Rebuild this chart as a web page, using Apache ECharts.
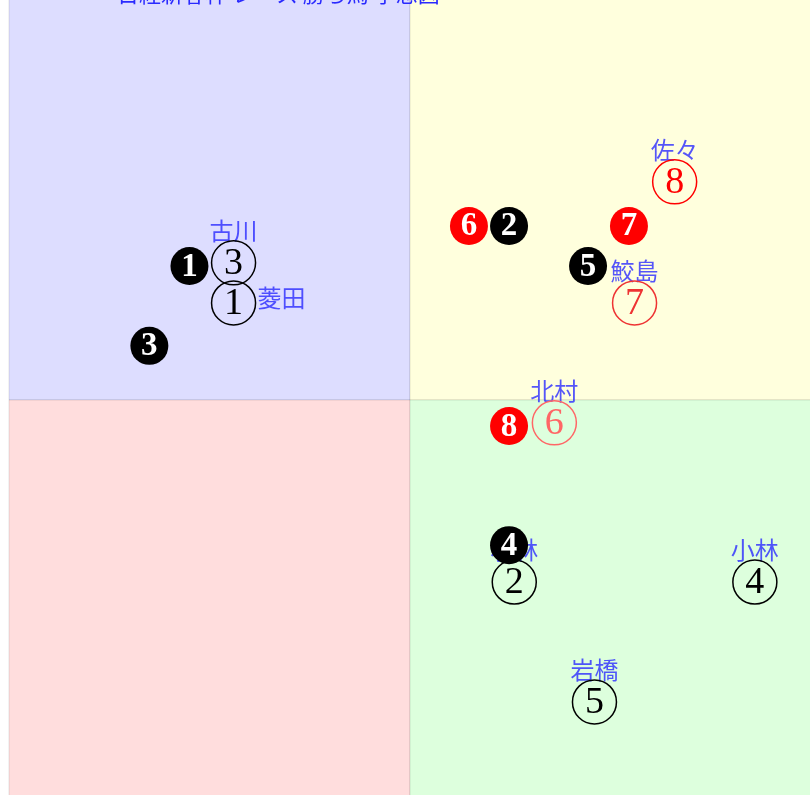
<!DOCTYPE html>
<html>
<head>
<meta charset="utf-8">
<script src="https://cdn.jsdelivr.net/npm/echarts@6/dist/echarts.min.js"></script>
<style>
  html, body { margin: 0; padding: 0; background: #ffffff; }
  #chart { width: 810px; height: 795px; }
</style>
</head>
<body>
<div id="chart"></div>
<script>
// 白抜きの丸数字（名前付き）
const openNums = ['3', '1', '8', '7', '6', '2', '4', '5']
const openX = [-4.4, -4.4, 6.6, 5.6, 3.6, 2.6, 8.6, 4.6]
const openY = [3.42, 2.42, 5.44, 2.42, -0.57, -4.54, -4.54, -7.53]
const openNames = ['古川', '菱田', '佐々', '鮫島', '北村', '小林', '小林', '岩橋']

// 黒丸数字
const filledNums = ['1', '3', '2', '6', '7', '5', '8', '4']
const filledX = [-5.5, -6.5, 2.47, 1.47, 5.46, 4.44, 2.47, 2.47]
const filledY = [3.34, 1.35, 4.34, 4.34, 4.34, 3.34, -0.65, -3.62]

// 色
const openColors = { '8': '#ff0000', '7': '#ee3333', '6': '#ff6666' }
const filledColors = { '6': '#ff0000', '7': '#ff0000', '8': '#ff0000' }
const rightNames = ['菱田']

const titleText = '日経新春杯 レース 勝ち馬 予想図'

const chart = echarts.init(document.getElementById('chart'))

const numFont = '"Liberation Serif", "DejaVu Serif", serif'
const nameFont = '"Noto Sans CJK JP", sans-serif'

const option = {
  animation: false,
  title: {
    text: titleText,
    left: 112,
    top: -22,
    textStyle: { color: '#2a2aff', fontSize: 22, fontWeight: 'normal', fontFamily: nameFont }
  },
  grid: { left: 9, top: -1, width: 802, height: 802, outerBoundsMode: 'none' },
  xAxis: { type: 'value', min: -10, max: 10, show: false },
  yAxis: { type: 'value', min: -10, max: 10, show: false },
  series: [
    {
      type: 'scatter',
      data: [],
      silent: true,
      markArea: {
        silent: true,
        itemStyle: { borderColor: 'rgba(0,0,0,0.1)', borderWidth: 1, opacity: 1 },
        data: [
          [{ xAxis: -10, yAxis: 0, itemStyle: { color: '#ddddff' } }, { xAxis: 0, yAxis: 10 }],
          [{ xAxis: 0, yAxis: 0, itemStyle: { color: '#ffffdd' } }, { xAxis: 10, yAxis: 10 }],
          [{ xAxis: -10, yAxis: -10, itemStyle: { color: '#ffdddd' } }, { xAxis: 0, yAxis: 0 }],
          [{ xAxis: 0, yAxis: -10, itemStyle: { color: '#ddffdd' } }, { xAxis: 10, yAxis: 0 }]
        ]
      }
    },
    {
      // 名前
      type: 'scatter',
      z: 3,
      symbolSize: 0,
      data: openNames.map((n, i) => {
        const right = rightNames.includes(n)
        return {
          value: [openX[i], openY[i]],
          label: { offset: right ? [48, -5] : [0, -32] }
        }
      }),
      label: {
        show: true,
        position: 'inside',
        formatter: p => openNames[p.dataIndex],
        color: '#2a2aff',
        fontSize: 24,
        fontFamily: nameFont
      }
    },
    {
      // 丸数字
      type: 'scatter',
      z: 4,
      symbol: 'circle',
      symbolSize: 44,
      data: openNums.map((m, i) => {
        const c = openColors[m] || '#000000'
        return {
          value: [openX[i], openY[i]],
          itemStyle: { borderColor: c },
          label: { color: c }
        }
      }),
      itemStyle: { color: 'rgba(0,0,0,0)', borderWidth: 1.5, opacity: 1 },
      label: {
        show: true,
        position: 'inside',
        offset: [0, 1],
        formatter: p => openNums[p.dataIndex],
        fontSize: 38,
        fontFamily: numFont
      }
    },
    {
      // 黒丸数字
      type: 'scatter',
      z: 5,
      symbol: 'circle',
      symbolSize: 38,
      data: filledNums.map((m, i) => ({
        value: [filledX[i], filledY[i]],
        itemStyle: { color: filledColors[m] || '#000000' }
      })),
      itemStyle: { opacity: 1 },
      label: {
        show: true,
        position: 'inside',
        offset: [0, 1],
        formatter: p => filledNums[p.dataIndex],
        color: '#ffffff',
        fontSize: 33,
        fontWeight: 'bold',
        fontFamily: numFont
      }
    }
  ]
}

chart.setOption(option)
</script>
</body>
</html>
